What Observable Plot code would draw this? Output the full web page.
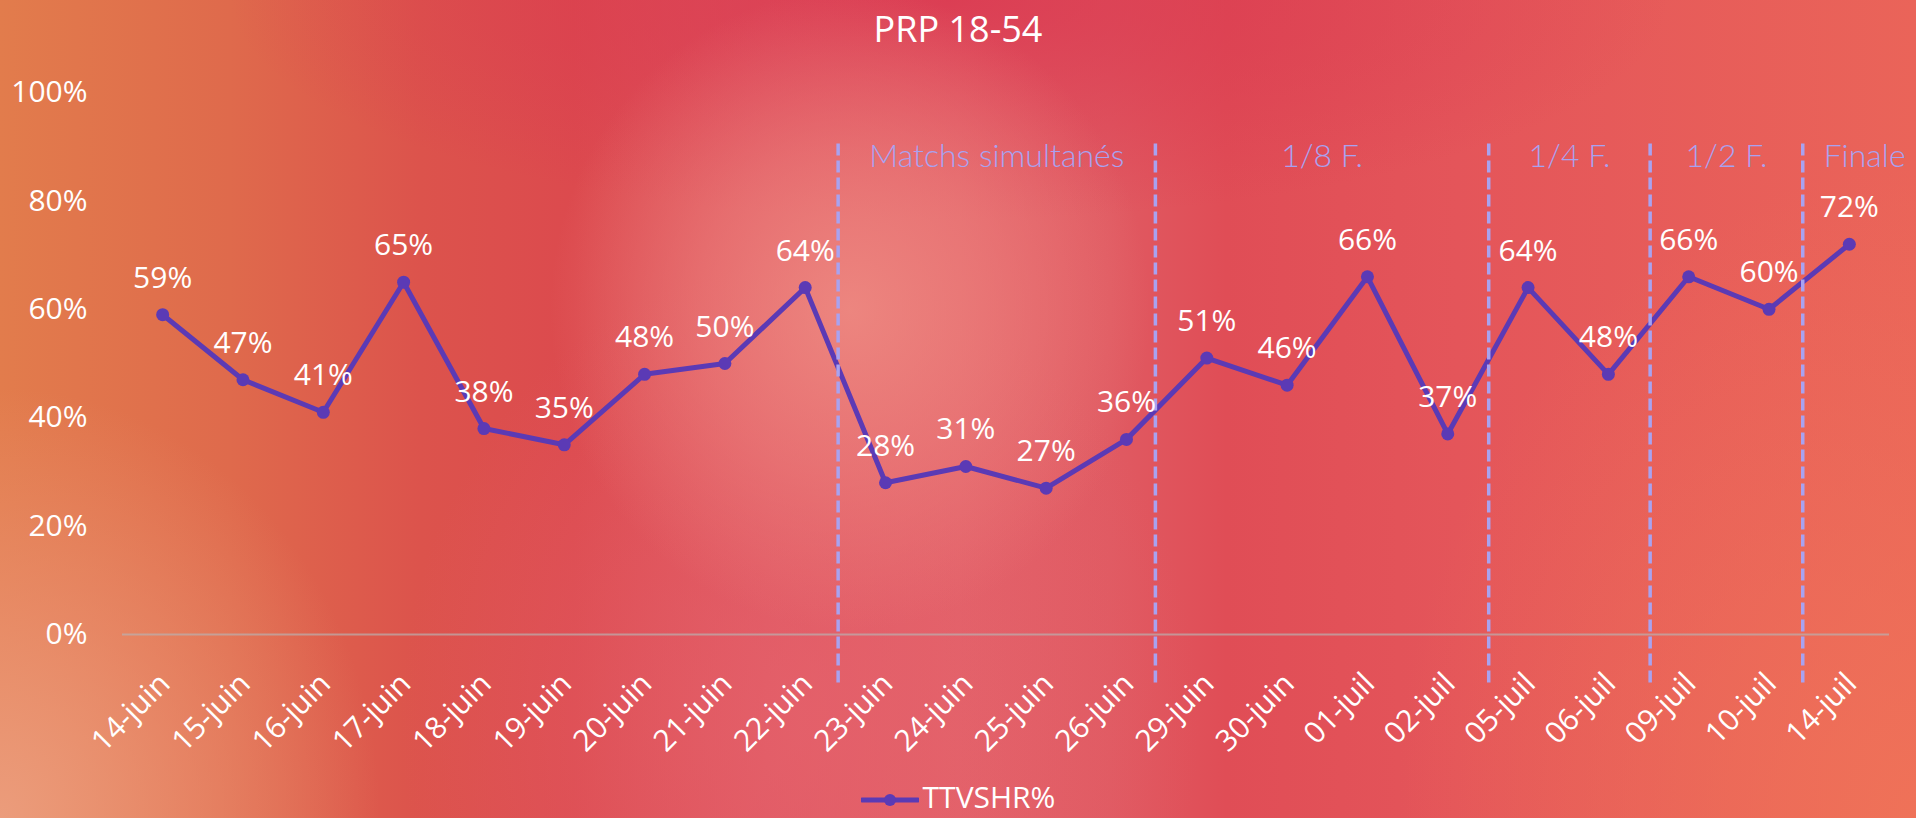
<!DOCTYPE html>
<html>
<head>
<meta charset="utf-8">
<script src="https://cdn.jsdelivr.net/npm/d3@7"></script>
<script src="https://cdn.jsdelivr.net/npm/@observablehq/plot@0.6"></script>
<style>
  html, body { margin: 0; padding: 0; }
  #wrap {
    position: relative; width: 1916px; height: 818px; overflow: hidden;
    font-family: "Open Sans", sans-serif; color: #fff;
    background:
      radial-gradient(ellipse 300px 320px at 850px 310px, rgba(238,138,130,0.9) 0%, rgba(236,128,124,0.6) 50%, rgba(232,110,112,0) 100%),
      radial-gradient(ellipse 400px 460px at 800px 720px, rgba(230,100,110,0.65) 0%, rgba(230,100,110,0) 100%),
      radial-gradient(ellipse 380px 430px at 0px 818px, rgba(236,158,126,0.95) 0%, rgba(236,150,120,0.55) 50%, rgba(236,150,120,0) 100%),
      radial-gradient(ellipse 720px 220px at 950px 0px, rgba(218,56,80,0.85) 0%, rgba(218,56,80,0) 100%),
      radial-gradient(ellipse 520px 650px at 1916px 818px, rgba(240,116,88,0.85) 0%, rgba(240,116,88,0) 100%),
      linear-gradient(90deg, #e27c4c 0%, #df6a4c 12%, #dc534c 22%, #dc4a4e 30%, #df5660 40%, #e26068 50%, #e05a62 58%, #e04d56 64%, #e4555a 76%, #ea6459 100%);
  }
  #title { height: 58px; line-height: 58px; text-align: center; font-size: 36px; }
  #legend { position: absolute; left: 0; right: 0; bottom: 0; height: 42px; line-height: 42px; text-align: center; font-size: 30px; white-space: nowrap; }
  #legend svg { vertical-align: baseline; margin-right: 4px; position: relative; top: -1px; }
</style>
</head>
<body>
<div id="wrap">
  <div id="title">PRP 18-54</div>
  <div id="chart"></div>
  <div id="legend"><svg width="58" height="14" viewBox="0 0 58 14"><line x1="1" y1="7" x2="57" y2="7" stroke="#5b3ab5" stroke-width="5" stroke-linecap="round"/><circle cx="29" cy="7" r="6" fill="#5b3ab5"/></svg>TTVSHR%</div>
</div>
<script>
// ---- data ----
const dates = ["14-juin","15-juin","16-juin","17-juin","18-juin","19-juin","20-juin","21-juin","22-juin",
  "23-juin","24-juin","25-juin","26-juin","29-juin","30-juin","01-juil","02-juil","05-juil","06-juil",
  "09-juil","10-juil","14-juil"];
const ttvshr = [59,47,41,65,38,35,48,50,64,28,31,27,36,51,46,66,37,64,48,66,60,72];
const yTicks = [0,20,40,60,80,100];
const phaseLabels = ["Matchs simultanés","1/8 F.","1/4 F.","1/2 F.","Finale"];
const phaseStarts = [8.41,12.36,16.51,18.52,20.42];   // boundaries, in category-index units
const phaseEnds   = [12.36,16.51,18.52,20.42,21.96];
const phaseTop = 90.5, phaseBottom = -9.8, phaseLabelY = 86.3;

const rows = ttvshr.map((v,i) => ({i, date: dates[i], v}));
const phases = phaseLabels.map((l,k) => ({label: l, start: phaseStarts[k], mid: (phaseStarts[k]+phaseEnds[k])/2}));

const purple = "#5b3ab5";
const lav = "#a8a2f0";

const chart = Plot.plot({
  width: 1916,
  height: 722,
  marginLeft: 122,
  marginRight: 27,
  marginTop: 34,
  marginBottom: 146,
  style: {background: "transparent", overflow: "visible", fontFamily: "Open Sans, sans-serif", fontSize: "30px", color: "white"},
  x: {type: "linear", domain: [-0.5, dates.length - 0.5]},
  y: {domain: [0, 100]},
  marks: [
    Plot.axisY({ticks: yTicks, tickFormat: d => d + "%", tickSize: 0, tickPadding: 35, fontSize: 30, fill: "white", label: null}),
    Plot.axisX({ticks: d3.range(dates.length), tickFormat: i => dates[i], tickSize: 0, tickPadding: 51,
      tickRotate: -45, textAnchor: "end", lineAnchor: "bottom", dx: 9, fontSize: 30, fill: "white", label: null}),
    Plot.ruleY([0], {stroke: "#b9b0b0", strokeOpacity: 0.7, strokeWidth: 2}),
    Plot.line(rows, {x: "i", y: "v", stroke: purple, strokeWidth: 5}),
    Plot.dot(rows, {x: "i", y: "v", r: 6.5, fill: purple}),
    Plot.ruleX(phases, {x: "start", y1: phaseTop, y2: phaseBottom, stroke: lav, strokeWidth: 3.5, strokeDasharray: "12,5"}),
    Plot.text(rows, {x: "i", y: "v", text: d => d.v + "%", dy: -27, lineAnchor: "bottom", fill: "white", fontSize: 30}),
    Plot.text(phases, {x: "mid", y: phaseLabelY, text: "label", lineAnchor: "bottom", fill: lav, fontSize: 32, fontWeight: 300, fontFamily: "Lato, sans-serif"})
  ]
});
document.getElementById("chart").appendChild(chart);
</script>
</body>
</html>
